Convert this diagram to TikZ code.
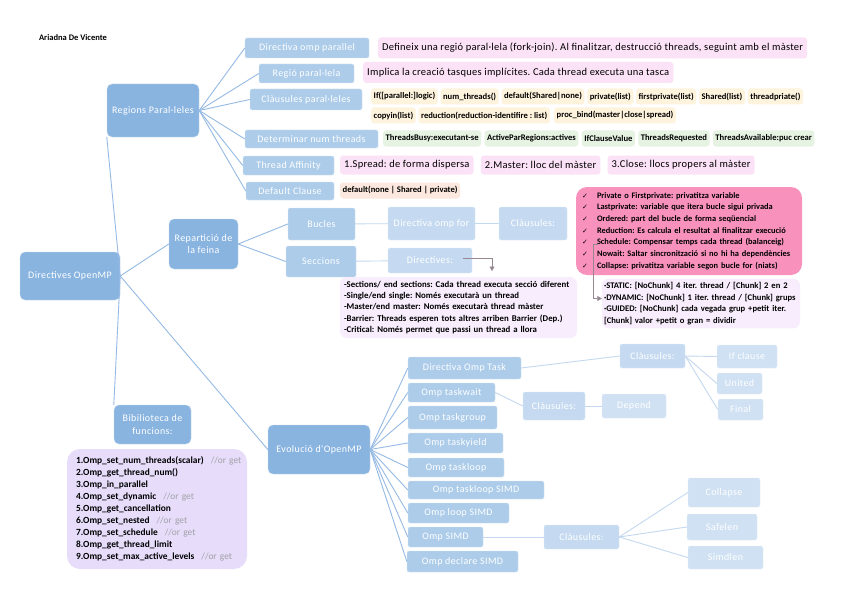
\documentclass[tikz,border=0pt]{standalone}
\usepackage{fontspec}
\setmainfont{Carlito}
\newfontfamily\boxfont[LetterSpace=4]{Carlito}
\newfontfamily\pinkfont[LetterSpace=2.5]{Carlito}
\newfontfamily\symfont{DejaVu Sans}
\usetikzlibrary{positioning,arrows.meta}
\usepackage{xcolor}
\frenchspacing

\definecolor{boxA}{RGB}{137,180,224}
\definecolor{boxB}{RGB}{172,204,234}
\definecolor{boxC}{RGB}{197,218,240}
\definecolor{boxD}{RGB}{207,225,243}
\definecolor{linkA}{RGB}{150,186,228}
\definecolor{linkC}{RGB}{196,216,239}
\definecolor{pinkchip}{RGB}{252,226,246}
\definecolor{yellowchip}{RGB}{254,243,221}
\definecolor{greenchip}{RGB}{231,243,226}
\definecolor{peachchip}{RGB}{252,232,222}
\definecolor{hotpink}{RGB}{248,146,188}
\definecolor{lavsec}{RGB}{247,237,252}
\definecolor{lavfun}{RGB}{231,221,251}
\definecolor{orget}{RGB}{160,160,165}
\definecolor{arrowgrey}{RGB}{150,135,145}

\newcommand{\tickmark}{\makebox[15pt][l]{\symfont\fontsize{7}{7}\selectfont ✓}}
\newcommand{\orget}{\nobreak\hspace{7pt}\mbox{\color{orget}\mdseries //or get}}

\begin{document}
\begin{tikzpicture}[x=1pt, y=-1pt, >=Latex, every node/.style={font=\small}]
\tikzstyle{lvlA}=[rectangle, rounded corners=5pt, fill=boxA, draw=white!50!boxA, text=white, align=center, font=\boxfont\fontsize{10}{12.5}\selectfont, inner sep=1pt]
\tikzstyle{lvlB}=[lvlA, rounded corners=2pt, fill=boxB, draw=white!50!boxB]
\tikzstyle{lvlC}=[lvlB, fill=boxC, draw=white!50!boxC]
\tikzstyle{lvlD}=[lvlB, fill=boxD, draw=white!50!boxD]
\tikzstyle{chip}=[rectangle, rounded corners=3pt, inner sep=2.5pt, minimum height=16pt, font=\bfseries\fontsize{8.6}{9}\selectfont]
\tikzstyle{ychip}=[chip, fill=yellowchip]
\tikzstyle{gchip}=[chip, fill=greenchip]
\tikzstyle{pchip}=[rectangle, rounded corners=3pt, fill=pinkchip, inner sep=4pt, minimum height=19pt, font=\pinkfont\fontsize{10.5}{12}\selectfont]
\tikzstyle{note}=[rectangle, align=left, font=\bfseries\fontsize{8.8}{11.2}\selectfont]
\tikzstyle{link}=[draw=linkA, line width=0.9pt]
\tikzstyle{linkl}=[draw=linkC, line width=0.9pt]
\tikzstyle{pointer}=[draw=arrowgrey, line width=0.7pt, -{Triangle[width=5pt,length=4.5pt]}]

\fill[white] (0,0) rectangle (848,599);
\useasboundingbox (0,0) rectangle (848,599);

\node[font=\bfseries\fontsize{8.5}{9}\selectfont] (author) at (73,38) {Ariadna De Vicente};

% Main topics
\node[lvlA, minimum width=100pt, minimum height=48pt] (root) at (70,276) {Directives OpenMP};
\node[lvlA, minimum width=92pt, minimum height=53pt] (regions) at (153,110.5) {Regions Paral·leles};
\node[lvlA, minimum width=69pt, minimum height=50pt] (rep) at (203.5,244) {Repartició de\\la feina};
\node[lvlA, minimum width=77pt, minimum height=39pt] (bib) at (152.5,424.5) {Bibilioteca de\\funcions:};
\node[lvlA, minimum width=102pt, minimum height=49pt] (evol) at (319,449.5) {Evolució d'OpenMP};

% Regions paral.leles
\node[lvlB, minimum width=124pt, minimum height=20pt] (dirpar) at (307,48) {Directiva omp parallel};
\node[lvlB, minimum width=95pt, minimum height=19pt] (regio) at (306.5,73.5) {Regió paral·lela};
\node[lvlB, minimum width=112pt, minimum height=21pt] (clausp) at (306,99.5) {Clàusules paral·leles};
\node[lvlB, minimum width=133pt, minimum height=18pt] (numthr) at (311.5,139) {Determinar num threads};
\node[lvlB, minimum width=91pt, minimum height=19pt] (affin) at (288.5,165.5) {Thread Affinity};
\node[lvlB, minimum width=88pt, minimum height=18pt] (defcl) at (290,191) {Default Clause};

\node[pchip, anchor=west, minimum height=21pt] (fork) at (378,48) {Defineix una regió paral·lela (fork-join). Al finalitzar, destrucció threads, seguint amb el màster};
\node[pchip, anchor=west, minimum height=21pt] (implicit) at (363,72.5) {Implica la creació tasques implícites. Cada thread executa una tasca};

\node[ychip, anchor=west] (chIf) at (371,96.5) {If([parallel:]logic)};
\node[ychip, right=2.5pt of chIf] (chNum) {num\_threads()};
\node[ychip, right=2.5pt of chNum] (chDef) {default(Shared|none)};
\node[ychip, right=2.5pt of chDef] (chPriv) {private(list)};
\node[ychip, right=2.5pt of chPriv] (chFirst) {firstprivate(list)};
\node[ychip, right=2.5pt of chFirst] (chShared) {Shared(list)};
\node[ychip, right=2.5pt of chShared] (chTp) {threadpriate()};
\node[ychip, anchor=west] (chCopy) at (371,115.5) {copyin(list)};
\node[ychip, right=2.5pt of chCopy] (chRed) {reduction(reduction-identifire : list)};
\node[ychip, right=4pt of chRed] (chBind) {proc\_bind(master|close|spread)};

\node[gchip, anchor=west] (gBusy) at (383,138.5) {ThreadsBusy:executant-se};
\node[gchip, right=3pt of gBusy] (gActive) {ActiveParRegions:actives};
\node[gchip, right=3pt of gActive] (gIf) {IfClauseValue};
\node[gchip, right=3pt of gIf] (gReq) {ThreadsRequested};
\node[gchip, right=3pt of gReq] (gAvail) {ThreadsAvailable:puc crear};

\node[pchip, anchor=west] (afSpread) at (340,165) {1.Spread: de forma dispersa};
\node[pchip, right=7pt of afSpread] (afMaster) {2.Master: lloc del màster};
\node[pchip, right=7pt of afMaster] (afClose) {3.Close: llocs propers al màster};
\node[chip, fill=peachchip, anchor=west] (chDefault) at (340,190.5) {default(none | Shared | private)};

% Reparticio de la feina
\node[lvlB, minimum width=67pt, minimum height=32pt] (bucles) at (321.5,224) {Bucles};
\node[lvlB, minimum width=70pt, minimum height=31pt] (seccions) at (321,261.5) {Seccions};
\node[lvlC, minimum width=87pt, minimum height=33pt] (dirfor) at (431.5,223.5) {Directiva omp for};
\node[lvlC, minimum width=68pt, minimum height=33pt] (clausfor) at (533,223.5) {Clàusules:};
\node[lvlC, minimum width=84pt, minimum height=25pt] (directives) at (430,260.5) {Directives:};

\node[note, fill=lavsec, rounded corners=7pt, text width=229pt, inner xsep=4pt, minimum height=61pt] (secbox) at (458.5,307.5)
  {-Sections/ end sections: Cada thread executa secció diferent\\
   -Single/end single: Només executarà un thread\\
   -Master/end master: Només executarà thread màster\\
   -Barrier: Threads esperen tots altres arriben Barrier (Dep.)\\
   -Critical: Només permet que passi un thread a llora};

\node[note, fill=hotpink, rounded corners=11pt, text width=214pt, inner xsep=6pt, minimum height=88pt, font=\bfseries\fontsize{8.4}{11.7}\selectfont] (checks) at (689,231)
  {\tickmark Private o Firstprivate: privatitza variable\\
   \tickmark Lastprivate: variable que itera bucle sigui privada\\
   \tickmark Ordered: part del bucle de forma seqüencial\\
   \tickmark Reduction: Es calcula el resultat al finalitzar execució\\
   \tickmark Schedule: Compensar temps cada thread (balanceig)\\
   \tickmark Nowait: Saltar sincronització si no hi ha dependències\\
   \tickmark Collapse: privatitza variable segon bucle for (niats)};

\node[note, fill=lavsec, rounded corners=7pt, text width=194pt, inner xsep=2pt, minimum height=49pt, font=\bfseries\fontsize{8.6}{11.8}\selectfont] (schedbox) at (701,303.5)
  {·STATIC: [NoChunk] 4 iter. thread / [Chunk] 2 en 2\\
   ·DYNAMIC: [NoChunk] 1 iter. thread / [Chunk] grups\\
   ·GUIDED: [NoChunk] cada vegada grup +petit iter.\\
   {[Chunk]} valor +petit o gran = dividir};

\coordinate (schedtick) at (598,244);
\coordinate (dirdrop) at (492,271);

% Bibilioteca de funcions
\node[note, fill=lavfun, rounded corners=13pt, text width=162pt, inner xsep=9pt, minimum height=120pt, font=\bfseries\fontsize{9.4}{12}\selectfont] (funcs) at (157,509)
  {1.Omp\_set\_num\_threads(scalar)\orget\\
   2.Omp\_get\_thread\_num()\\
   3.Omp\_in\_parallel\\
   4.Omp\_set\_dynamic\orget\\
   5.Omp\_get\_cancellation\\
   6.Omp\_set\_nested\orget\\
   7.Omp\_set\_schedule\orget\\
   8.Omp\_get\_thread\_limit\\
   9.Omp\_set\_max\_active\_levels\orget};

% Evolucio d'OpenMP
\node[lvlB, minimum width=113pt, minimum height=22pt] (task) at (464.5,368) {Directiva Omp Task};
\node[lvlB, minimum width=87pt, minimum height=19pt] (taskwait) at (451.5,392.5) {Omp taskwait};
\node[lvlB, minimum width=89pt, minimum height=23pt] (taskgroup) at (452.5,417.5) {Omp taskgroup};
\node[lvlB, minimum width=95pt, minimum height=20pt] (taskyield) at (455.5,443) {Omp taskyield};
\node[lvlB, minimum width=96pt, minimum height=19pt] (taskloop) at (456,467.5) {Omp taskloop};
\node[lvlB, minimum width=136pt, minimum height=18pt] (tlsimd) at (476,490) {Omp taskloop SIMD};
\node[lvlB, minimum width=101pt, minimum height=20pt] (loopsimd) at (458.5,513) {Omp loop SIMD};
\node[lvlB, minimum width=75pt, minimum height=20pt] (simd) at (445.5,537) {Omp SIMD};
\node[lvlB, minimum width=111pt, minimum height=21pt] (declsimd) at (462.5,561.5) {Omp declare SIMD};

\node[lvlC, minimum width=65pt, minimum height=24pt] (clausT) at (652.5,356) {Clàusules:};
\node[lvlC, minimum width=62pt, minimum height=28pt] (clausW) at (554,406) {Clàusules:};
\node[lvlC, minimum width=75pt, minimum height=24pt] (clausS) at (581.5,537) {Clàusules:};
\node[lvlD, minimum width=60pt, minimum height=23pt] (ifcl) at (747,356.5) {If clause};
\node[lvlD, minimum width=45pt, minimum height=21pt] (united) at (739.5,383.5) {United};
\node[lvlD, minimum width=45pt, minimum height=21pt] (final) at (740.5,409.5) {Final};
\node[lvlD, minimum width=64pt, minimum height=24pt] (depend) at (634,406) {Depend};
\node[lvlD, minimum width=72pt, minimum height=29pt] (collapse) at (724,492.5) {Collapse};
\node[lvlD, minimum width=70pt, minimum height=26pt] (safelen) at (722,527) {Safelen};
\node[lvlD, minimum width=75pt, minimum height=23pt] (simdlen) at (725.5,557.5) {Simdlen};

% Connections
\draw[link] (root.east) -- (regions.south west);
\draw[link] (root.east) -- (rep.west);
\draw[link] (root.east) -- (bib.north west);
\draw[link] (root.east) -- (evol.west);

\draw[link] (regions.east) -- (dirpar.west);
\draw[link] (regions.east) -- (regio.west);
\draw[link] (regions.east) -- (clausp.west);
\draw[link] (regions.east) -- (numthr.west);
\draw[link] (regions.east) -- (affin.west);
\draw[link] (regions.east) -- (defcl.west);

\draw[link] (rep.east) -- (bucles.west);
\draw[link] (rep.east) -- (seccions.west);
\draw[linkl] (bucles) -- (dirfor);
\draw[linkl] (dirfor) -- (clausfor);
\draw[linkl] (seccions) -- (directives);
\draw[pointer] ([xshift=-9pt,yshift=2pt]directives.east) -| (dirdrop);
\draw[pointer] (schedtick) -- ++(-5,0) |- ([yshift=5pt]schedbox.west);

\draw[link] (evol.east) -- (task.west);
\draw[link] (evol.east) -- (taskwait.west);
\draw[link] (evol.east) -- (taskgroup.west);
\draw[link] (evol.east) -- (taskyield.west);
\draw[link] (evol.east) -- (taskloop.west);
\draw[link] (evol.east) -- (tlsimd.west);
\draw[link] (evol.east) -- (loopsimd.west);
\draw[link] (evol.east) -- (simd.west);
\draw[link] (evol.east) -- (declsimd.west);

\draw[linkl] (task.east) -- (clausT.west);
\draw[linkl] (taskwait.east) -- (clausW.west);
\draw[linkl] (simd.east) -- (clausS.west);
\draw[linkl] (clausW.east) -- (depend.west);
\draw[linkl] (clausT.east) -- (ifcl.west);
\draw[linkl] (clausT.east) -- (united.west);
\draw[linkl] (clausT.east) -- (final.west);
\draw[linkl] (clausS.east) -- (collapse.west);
\draw[linkl] (clausS.east) -- (safelen.west);
\draw[linkl] (clausS.east) -- (simdlen.west);
\end{tikzpicture}
\end{document}
